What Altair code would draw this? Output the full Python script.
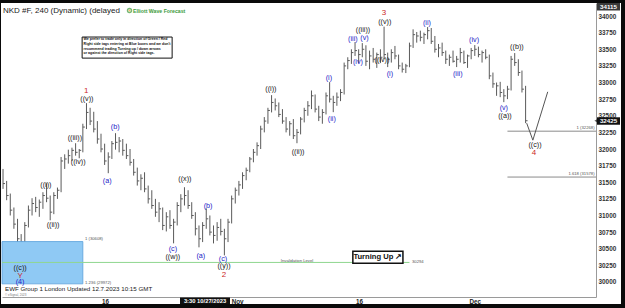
import altair as alt
import pandas as pd

# ---------------- data ----------------
# 240-min bars, compressed to 3 bars per trading day, index 0..144
highs = [31700,31520,31330,31120,30950,30720,30900,31150,31260,31280,
         31240,31350,31485,31300,31350,31420,31880,31920,31990,32020,
         32087,32000,32380,32690,32620,32560,32420,32230,32080,31950,
         32120,32238,32180,32150,32080,32000,31850,31720,31620,31650,
         31450,31380,31250,31200,31120,31050,31080,30950,31200,31320,
         31425,31380,31200,31050,30850,30900,31108,31000,30850,30900,
         30950,30800,30950,31300,31420,31520,31650,31720,31880,32000,
         32100,32350,32480,32620,32810,32760,32700,32600,32480,32420,
         32450,32300,32480,32620,32720,32880,32820,32650,32600,32850,
         33006,32800,32850,32900,33300,33380,33500,33608,33500,33593,
         33560,33480,33520,33450,33500,33840,33450,33500,33550,33420,
         33300,33280,33600,33800,33760,33780,33750,33834,33820,33700,
         33580,33600,33480,33420,33480,33400,33520,33480,33420,33520,
         33563,33540,33480,33500,33420,33150,33000,33010,32900,32950,
         33400,33443,33350,33180,32950]
lows = [31400,31230,31000,30800,30560,30294,30550,30820,31000,31050,
        30980,31100,31200,30928,31020,31250,31350,31700,31780,31820,
        31900,31861,31950,32300,32360,32250,32080,31950,31760,31636,
        31850,31990,31950,31900,31850,31750,31600,31450,31380,31350,
        31180,31100,30980,30900,30780,30760,30800,30581,30850,31050,
        31150,31100,30950,30700,30521,30600,30800,30700,30580,30620,
        30700,30400,30600,30880,31180,31300,31400,31530,31650,31800,
        31900,32000,32250,32380,32550,32580,32480,32380,32250,32200,
        32150,32087,32220,32400,32500,32600,32550,32420,32380,32520,
        32700,32554,32650,32720,32820,33200,33280,33400,33292,33380,
        33250,33200,33300,33220,33292,33350,33232,33300,33350,33200,
        33150,33142,33230,33520,33600,33620,33580,33650,33580,33450,
        33380,33400,33280,33250,33300,33232,33300,33280,33220,33350,
        33400,33380,33300,33350,33050,32920,32800,32780,32705,32750,
        32880,33250,33100,32850,32389]
closes = [31480,31300,31080,30870,30650,30600,30850,31080,31180,31120,
          31200,31300,31260,31050,31300,31380,31820,31850,31900,31980,
          31950,31980,32330,32550,32420,32300,32150,32000,31820,31880,
          32080,32100,32120,31980,31900,31800,31650,31520,31560,31400,
          31250,31150,31050,31100,30850,30980,30850,30900,31150,31250,
          31300,31150,31000,30800,30650,30850,30950,30750,30700,30820,
          30760,30650,30900,31250,31380,31460,31600,31680,31850,31950,
          32050,32300,32420,32580,32700,32650,32520,32420,32300,32380,
          32200,32250,32450,32580,32650,32800,32600,32480,32550,32800,
          32750,32700,32780,32850,33250,33330,33450,33480,33420,33500,
          33320,33400,33350,33420,33380,33420,33350,33450,33400,33250,
          33200,33250,33550,33720,33700,33680,33720,33780,33620,33500,
          33520,33450,33350,33380,33320,33350,33450,33300,33400,33480,
          33500,33420,33450,33380,33100,32980,32950,32850,32800,32900,
          33350,33300,33150,32900,32425]

# Elliott wave labels
lab_text = ["((c))","Y","(4)","((i))","((ii))","((iii))","((iv))","((v))","1",
            "(a)","(b)","(c)","((w))","((x))","(a)","(b)","(c)","((y))","2",
            "((i))","((ii))","(i)","(ii)","((iii))","(iii)","(v)","(iv)","((iv))",
            "3","((v))","(i)","(ii)","(iii)","(iv)","((b))","(v)","((a))","((c))","4"]
lab_i = [4.7,4.7,4.7,11.8,13.8,19.8,20.7,23.1,22.9,
         28.7,30.9,46.8,46.8,50.1,54.5,56.5,60.6,60.9,60.9,
         73.8,81.3,89.8,90.6,99.2,96.4,99.6,97.8,104.4,
         105,105.2,106.6,116.8,125.3,129.8,141.6,138,138.3,146.6,146.3]
lab_p = [30215,30094,29994,31455,30853,32163,31801,32750,32870,
         31515,32328,30491,30371,31545,30386,31139,30340,30235,30099,
         32901,31952,33066,32449,33784,33654,33669,33307,33337,
         34040,33915,33126,33895,33126,33639,33533,32614,32494,32057,31937]
lab_kind = ["k","r","b","k","k","k","k","k","r",
            "b","b","b","k","k","b","b","b","k","r",
            "k","k","b","b","k","b","b","b","k",
            "r","k","b","b","b","b","k","b","k","k","r"]
kind_color = {"k": "#1a1a1a", "b": "#2424c8", "r": "#cc1f1f"}

# projected ((c)) path
proj_i = [144.3, 146.0, 150.1]
proj_p = [32389, 32133, 32860]

# levels
invalidation = 30294
fib_levels = [32268, 31578]
fib_texts = ["1 (32268)", "1.618 (31578)"]
box_top, box_bottom = 30608, 29972
box_texts = ["1 (30608)", "1.236 (29972)"]

# x axis ticks (bar index) and labels
tick_pos = [28.1, 64.5, 98.1, 130.0]
tick_lab = ["16", "Nov", "16", "Dec"]
y_ticks = list(range(30000, 34001, 250))

note_lines = ["We prefer to trade only in direction of Green / Red",
              "Right side tags entering at Blue boxes and we don't",
              "recommend trading Turning up / down arrows",
              "or against the direction of Right side tags."]
note_p = [33649, 33580, 33511, 33441]

# ---------------- chart ----------------
XMIN, XMAX = -0.28, 163.4
YMIN, YMAX = 29774, 34196
FONT = "Liberation Sans"
xs = alt.Scale(domain=[XMIN, XMAX], nice=False, zero=False)
ys = alt.Scale(domain=[YMIN, YMAX], nice=False, zero=False)

label_expr = " : ".join(
    [f"abs(datum.value - {p}) < 1 ? '{t}'" for p, t in zip(tick_pos, tick_lab)]) + " : ''"

x_axis = alt.Axis(values=tick_pos, labelExpr=label_expr, title=None, grid=False,
                  tickSize=0, labelPadding=1.5, labelFont=FONT, labelFontSize=6.3,
                  labelFontWeight="bold", labelColor="#222", domainColor="#9a9a9a",
                  labelFlush=False)
y_axis = alt.Axis(orient="right", values=y_ticks, format="d", title=None, grid=False,
                  tickSize=0, labelPadding=2, labelFont=FONT, labelFontSize=6.4,
                  labelFontWeight="bold", labelColor="#333", domainColor="#9a9a9a")


def X(f):
    return alt.X(f, scale=xs, axis=x_axis, title=None)


def Y(f):
    return alt.Y(f, scale=ys, axis=y_axis, title=None)


bars = pd.DataFrame({"i": list(range(len(highs))), "h": highs, "l": lows, "c": closes})

hl = alt.Chart(bars).mark_rule(color="#5a5a5a", strokeWidth=1).encode(
    x=X("i:Q"), y=Y("l:Q"), y2="h:Q")
cl = alt.Chart(bars).transform_calculate(ir="datum.i + 0.55").mark_rule(
    color="#5a5a5a", strokeWidth=1).encode(x=X("i:Q"), x2="ir:Q", y=Y("c:Q"))

bluebox = alt.Chart(pd.DataFrame({"x": [XMIN], "x2": [22.0], "y": [box_top], "y2": [box_bottom]})).mark_rect(
    fill="#8fc9f4", stroke="#5b9fdc", strokeWidth=0.8).encode(
    x=X("x:Q"), x2="x2:Q", y=Y("y:Q"), y2="y2:Q")

green = alt.Chart(pd.DataFrame({"x": [XMIN], "x2": [112.0], "y": [invalidation]})).mark_rule(
    color="#8fd68f", strokeWidth=1).encode(x=X("x:Q"), x2="x2:Q", y=Y("y:Q"))

fib = alt.Chart(pd.DataFrame({"x": [139.0, 139.0], "x2": [XMAX, XMAX], "y": fib_levels})).mark_rule(
    color="#8a8a8a", strokeWidth=1).encode(x=X("x:Q"), x2="x2:Q", y=Y("y:Q"))

proj = alt.Chart(pd.DataFrame({"i": proj_i, "p": proj_p, "k": [0, 1, 2]})).mark_line(
    color="#555", strokeWidth=1).encode(x=X("i:Q"), y=Y("p:Q"), order="k:Q")

lab_df = pd.DataFrame({"t": lab_text, "i": lab_i, "p": lab_p, "k": lab_kind})
label_layers = []
for k, col in kind_color.items():
    label_layers.append(alt.Chart(lab_df[lab_df["k"] == k]).mark_text(
        font=FONT, baseline="middle", align="center", color=col,
        fontSize=8 if k == "r" else 7.2).encode(x=X("i:Q"), y=Y("p:Q"), text="t:N"))

small = pd.DataFrame({
    "t": fib_texts + box_texts + ["Invalidation Level", str(invalidation)],
    "i": [163.0, 163.0, 22.6, 22.6, 81.0, 112.7],
    "p": [32321, 31631, 30649, 29986, 30318, 30295],
    "a": ["right", "right", "left", "left", "center", "left"],
})
small_txt = []
for al in ["left", "right", "center"]:
    small_txt.append(alt.Chart(small[small["a"] == al]).mark_text(
        font=FONT, fontSize=4.2, color="#555", align=al, baseline="middle").encode(
        x=X("i:Q"), y=Y("p:Q"), text="t:N"))

note_box = alt.Chart(pd.DataFrame({"x": [21.8], "x2": [46.6], "y": [33684], "y2": [33367]})).mark_rect(
    fill="white", stroke="#111", strokeWidth=1).encode(x=X("x:Q"), x2="x2:Q", y=Y("y:Q"), y2="y2:Q")
note_txt = alt.Chart(pd.DataFrame({"t": note_lines, "i": [22.2] * 4, "p": note_p})).mark_text(
    font=FONT, fontSize=3.55, fontWeight="bold", color="#111", align="left", baseline="middle").encode(
    x=X("i:Q"), y=Y("p:Q"), text="t:N")

tu_box = alt.Chart(pd.DataFrame({"x": [96.4], "x2": [110.2], "y": [30461], "y2": [30280]})).mark_rect(
    fill="white", stroke="#111", strokeWidth=1.5).encode(x=X("x:Q"), x2="x2:Q", y=Y("y:Q"), y2="y2:Q")
tu_txt = alt.Chart(pd.DataFrame({"t": ["Turning Up \u2197"], "i": [103.3], "p": [30370]})).mark_text(
    font=FONT, fontSize=7.6, fontWeight="bold", color="#111", align="center", baseline="middle").encode(
    x=X("i:Q"), y=Y("p:Q"), text="t:N")

tag = alt.Chart(pd.DataFrame({"y": [32425 + 52], "y2": [32425 - 60]})).mark_rect(fill="#111").encode(
    x=alt.value(595), x2=alt.value(618), y=Y("y:Q"), y2="y2:Q")
tag_txt = alt.Chart(pd.DataFrame({"t": ["32425"], "p": [32425]})).mark_text(
    font=FONT, fontSize=6.2, fontWeight="bold", color="white", align="center", baseline="middle").encode(
    x=alt.value(606.5), y=Y("p:Q"), text="t:N")
tag_arrow = alt.Chart(pd.DataFrame({"p": [32425]})).mark_point(
    shape="triangle-left", filled=True, color="#111", size=14).encode(
    x=alt.value(594), y=Y("p:Q"))


def deco_rect(x, x2, y, y2, fill):
    return alt.Chart(pd.DataFrame({"d": [0]})).mark_rect(fill=fill).encode(
        x=alt.value(x), x2=alt.value(x2), y=alt.value(y), y2=alt.value(y2))


def deco_text(t, x, y, size, color, weight="normal", align="left"):
    return alt.Chart(pd.DataFrame({"t": [t]})).mark_text(
        font=FONT, fontSize=size, fontWeight=weight, color=color, align=align,
        baseline="middle").encode(x=alt.value(x), y=alt.value(y), text="t:N")


toptag = deco_rect(595, 618, 0, 7.5, "#3a3a3a")
toptag_txt = deco_text("34115", 606.5, 4, 6.2, "white", "bold", "center")
title = deco_text("NKD #F, 240 (Dynamic) (delayed", 1, 7.5, 8, "#222")
logo_c = alt.Chart(pd.DataFrame({"d": [0]})).mark_point(
    shape="circle", filled=False, stroke="#3b9b3b", strokeWidth=1.4, size=16).encode(
    x=alt.value(127.5), y=alt.value(7.5))
logo_c2 = alt.Chart(pd.DataFrame({"d": [0]})).mark_point(
    shape="circle", filled=True, color="#f0a030", size=4).encode(
    x=alt.value(127.5), y=alt.value(7.5))
logo_t = deco_text("Elliott Wave Forecast", 131, 7.5, 5.2, "#3b9b3b", "bold")
footer = deco_text("EWF Group 1 London Updated 12.7.2023 10:15 GMT", 3, 286, 6.2, "#222")
footer2 = deco_text("\u00a9 eSignal, 2023", 3, 292, 3, "#777")
cross_box = deco_rect(178, 228, 294.5, 301.5, "#111")
cross_txt = deco_text("3:30 10/27/2023", 203, 298.2, 5.8, "white", "bold", "center")

frame = [deco_rect(-2, 623, -3, 0, "#0a0a0a"), deco_rect(-2, 623, 301, 305, "#0a0a0a"),
         deco_rect(-2, -1, -3, 305, "#0a0a0a"), deco_rect(619, 623, -3, 305, "#0a0a0a")]

chart = alt.layer(
    hl, cl, bluebox, green, fib, proj,
    note_box, note_txt, tu_box, tu_txt, *label_layers, *small_txt,
    tag_arrow, tag, tag_txt, toptag, toptag_txt,
    title, logo_c, logo_c2, logo_t, footer, footer2, cross_box, cross_txt, *frame
).properties(
    width=594, height=294,
    padding={"left": 2, "top": 3, "right": 29, "bottom": 11},
    autosize="none",
    background="white",
).configure_view(stroke=None)

chart.save("out.html", embed_options={"renderer": "svg", "actions": False})
